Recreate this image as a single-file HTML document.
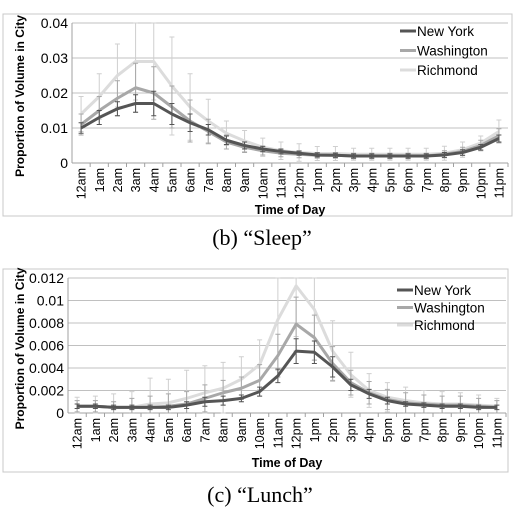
<!DOCTYPE html>
<html><head><meta charset="utf-8"><style>
body{margin:0;background:#fff;width:521px;height:510px;overflow:hidden}
svg{display:block}
</style></head><body>
<svg id="svg" width="521" height="510" xmlns="http://www.w3.org/2000/svg"></svg>
<script>
const categories=["12am","1am","2am","3am","4am","5am","6am","7am","8am","9am","10am","11am","12pm","1pm","2pm","3pm","4pm","5pm","6pm","7pm","8pm","9pm","10pm","11pm"];
const seriesNames=["New York","Washington","Richmond"];
const sleepTicks=["0","0.01","0.02","0.03","0.04"];
const sleepTickValues=[0,0.01,0.02,0.03,0.04];
const sleepNY=[0.010,0.013,0.0155,0.017,0.017,0.014,0.0115,0.0095,0.0065,0.005,0.004,0.0033,0.0028,0.0023,0.0022,0.002,0.002,0.002,0.002,0.002,0.0023,0.003,0.0045,0.007];
const sleepWA=[0.011,0.015,0.0185,0.0215,0.020,0.016,0.012,0.009,0.006,0.0045,0.0035,0.0028,0.0025,0.0022,0.0022,0.002,0.002,0.002,0.002,0.002,0.0025,0.0033,0.005,0.0078];
const sleepRI=[0.014,0.019,0.025,0.029,0.029,0.022,0.016,0.012,0.0085,0.0063,0.0045,0.0035,0.003,0.0027,0.0027,0.0025,0.0025,0.0025,0.0025,0.0025,0.0028,0.0038,0.0057,0.009];
const sleepErrNY=[0.0015,0.002,0.002,0.0025,0.0035,0.003,0.0025,0.0015,0.0012,0.001,0.0008,0.0007,0.0006,0.0006,0.0006,0.0006,0.0006,0.0006,0.0006,0.0006,0.0007,0.0008,0.0008,0.001];
const sleepErrWA=[0.003,0.004,0.005,0.007,0.0075,0.006,0.006,0.0035,0.002,0.0015,0.0012,0.001,0.001,0.0008,0.0008,0.0008,0.0008,0.0008,0.0008,0.0008,0.001,0.0012,0.0015,0.002];
const sleepErrRI=[0.005,0.0065,0.009,0.011,0.011,0.014,0.0095,0.0062,0.0035,0.003,0.0026,0.0025,0.0025,0.002,0.002,0.0017,0.0017,0.0017,0.0017,0.0017,0.002,0.0022,0.002,0.0033];
const lunchTicks=["0","0.002","0.004","0.006","0.008","0.01","0.012"];
const lunchTickValues=[0,0.002,0.004,0.006,0.008,0.01,0.012];
const lunchNY=[0.0006,0.0006,0.0005,0.0005,0.0005,0.0005,0.0007,0.001,0.0011,0.0013,0.0019,0.0033,0.0055,0.0054,0.0041,0.0025,0.0017,0.0011,0.0008,0.0007,0.0006,0.0006,0.0005,0.0005];
const lunchWA=[0.0006,0.0006,0.0005,0.0005,0.0005,0.0006,0.0008,0.0013,0.0018,0.0022,0.0029,0.0051,0.0079,0.0067,0.0044,0.0027,0.0018,0.0012,0.0009,0.0008,0.0007,0.0007,0.0006,0.0005];
const lunchRI=[0.0006,0.0006,0.0005,0.0005,0.0008,0.0009,0.0013,0.0018,0.0022,0.003,0.0043,0.0083,0.0113,0.0092,0.0055,0.0034,0.002,0.0014,0.0011,0.0009,0.0008,0.0008,0.0007,0.0006];
const lunchErrNY=[0.0002,0.0002,0.0002,0.0002,0.0002,0.0002,0.0003,0.0004,0.0004,0.0003,0.0004,0.0006,0.0011,0.001,0.0009,0.0005,0.0004,0.0003,0.0002,0.0002,0.0002,0.0002,0.0002,0.0002];
const lunchErrWA=[0.0005,0.0005,0.0005,0.0008,0.001,0.0011,0.0011,0.0012,0.0011,0.001,0.0014,0.0019,0.0024,0.002,0.0015,0.0011,0.001,0.0009,0.0009,0.0008,0.0008,0.0008,0.0007,0.0006];
const lunchErrRI=[0.0008,0.0009,0.0012,0.0014,0.0023,0.0021,0.0025,0.0024,0.0023,0.002,0.0022,0.0045,0.0045,0.0045,0.0027,0.002,0.0015,0.0013,0.0012,0.0011,0.0011,0.001,0.0009,0.0007];

const NS="http://www.w3.org/2000/svg";
const svg=document.getElementById('svg');
const colors=["#555555","#a8a8a8","#dcdcdc"];
const errColors=["#555555","#a8a8a8","#cfcfcf"];
function mk(tag,attrs,parent,text){const e=document.createElementNS(NS,tag);for(const k in attrs)e.setAttribute(k,attrs[k]);if(text!==undefined)e.textContent=text;(parent||svg).appendChild(e);return e;}

function drawChart(cfg){
  const g=mk('g',{});
  
  
  const fr=mk('rect',{x:cfg.fx,y:cfg.fy,width:cfg.fw,height:cfg.fh,fill:'none',stroke:'#c8c8c8','stroke-width':1},g);
  
  
  const L=cfg.left,R=cfg.right,T=cfg.top,B=cfg.bottom,max=cfg.max;
  const bw=(R-L)/categories.length;
  const xs=i=>L+bw*(i+0.5);
  const ys=v=>B-(v/max)*(B-T);
  cfg.tickValues.forEach((v,i)=>{
    const gl=mk('line',{x1:L,x2:R,y1:ys(v),y2:ys(v),stroke:'#c0c0c0','stroke-width':1},g);
    
    
    const t=mk('text',{x:L-4,y:ys(v)+5,'text-anchor':'end','font-family':'Liberation Sans, sans-serif','font-size':'14',fill:'#000'},g,cfg.ticks[i]);
    
    
  });
  mk('line',{x1:L,x2:L,y1:T,y2:B,stroke:'#a0a0a0'},g);
  mk('line',{x1:L,x2:R,y1:B,y2:B,stroke:'#a0a0a0'},g);
  categories.forEach((c,i)=>{
    mk('line',{x1:L+bw*(i+1),x2:L+bw*(i+1),y1:B,y2:B+4,stroke:'#a0a0a0'},g);
    const t=mk('text',{transform:`translate(${xs(i)+4.5},${B+5}) rotate(-90)`,'text-anchor':'end','font-family':'Liberation Sans, sans-serif','font-size':'12.5',fill:'#000'},g,c);
    
    
  });
  const yt=mk('text',{transform:`translate(${cfg.fx+21},${(T+B)/2+3}) rotate(-90)`,'text-anchor':'middle','font-family':'Liberation Sans, sans-serif','font-size':'12','font-weight':'bold'},g,'Proportion of Volume in City');
  
  
  const xt=mk('text',{x:(L+R)/2,y:cfg.xTitleY,'text-anchor':'middle','font-family':'Liberation Sans, sans-serif','font-size':'12.5','font-weight':'bold'},g,'Time of Day');
  
  
  for(let s=2;s>=0;s--){
    const vals=cfg.series[s],errs=cfg.errs[s];
    vals.forEach((v,i)=>{
      const x=xs(i),y1=ys(Math.min(max,v+errs[i])),y2=ys(Math.max(0,v-errs[i]));
      const eb=mk('path',{d:`M${x},${y1}V${y2}M${x-2.5},${y1}H${x+2.5}M${x-2.5},${y2}H${x+2.5}`,stroke:errColors[s],'stroke-width':1,fill:'none'},g);
      
      
    });
    const pl=mk('polyline',{points:vals.map((v,i)=>xs(i)+','+ys(v)).join(' '),fill:'none',stroke:colors[s],'stroke-width':3,'stroke-linejoin':'round'},g);
    
    
  }
  seriesNames.forEach((n,s)=>{
    const y=cfg.legY+s*cfg.legDy;
    const ll=mk('line',{x1:cfg.legX,x2:cfg.legX+16,y1:y,y2:y,stroke:colors[s],'stroke-width':3},g);
    
    
    const lt=mk('text',{x:cfg.legX+17,y:y+5,'font-family':'Liberation Sans, sans-serif','font-size':'13.5'},g,n);
    
    
  });
  const cap=mk('text',{x:cfg.capX,y:cfg.capY,'text-anchor':'middle','font-family':'Liberation Serif, serif','font-size':'22'},svg,cfg.caption);
  
  
}
drawChart({name:'sleep-chart',fx:3,fy:14,fw:509,fh:202,left:72,right:508,top:23,bottom:163,max:0.04,
  ticks:sleepTicks,tickValues:sleepTickValues,series:[sleepNY,sleepWA,sleepRI],errs:[sleepErrNY,sleepErrWA,sleepErrRI],
  xTitleY:214,legX:400,legY:31,legDy:19.5,caption:'(b) \u201cSleep\u201d',capX:262,capY:245});
drawChart({name:'lunch-chart',fx:3,fy:269,fw:505,fh:203,left:68,right:506,top:278,bottom:413,max:0.012,
  ticks:lunchTicks,tickValues:lunchTickValues,series:[lunchNY,lunchWA,lunchRI],errs:[lunchErrNY,lunchErrWA,lunchErrRI],
  xTitleY:467,legX:397,legY:290,legDy:17.5,caption:'(c) \u201cLunch\u201d',capX:260,capY:502});
</script>
</body></html>
